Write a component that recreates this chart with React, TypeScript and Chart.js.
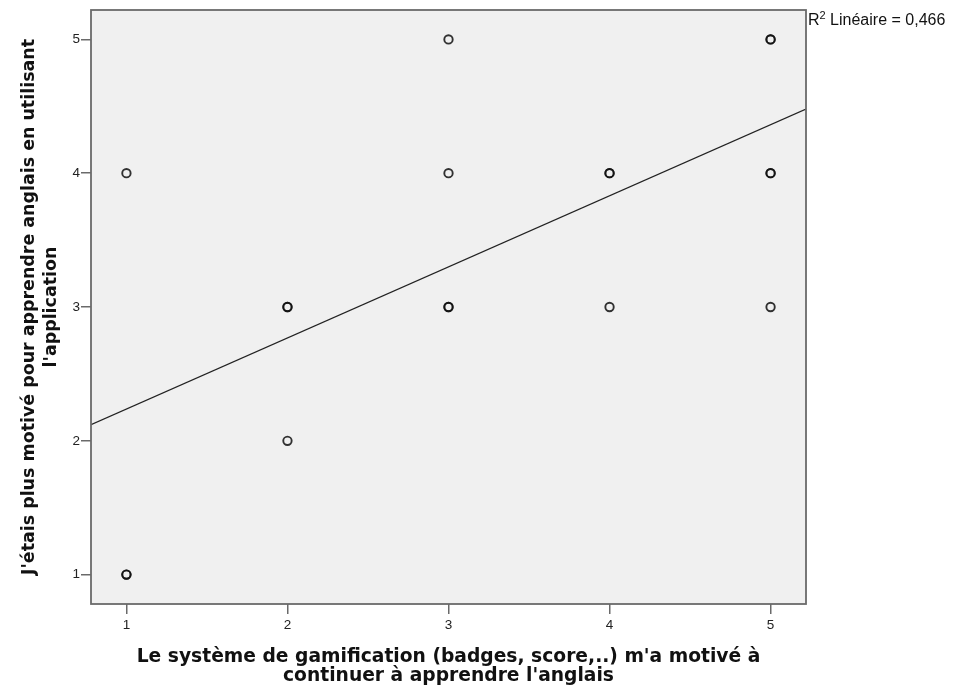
import React, { useEffect, useRef } from "react";
import { Chart, registerables } from "chart.js";

Chart.register(...registerables);

const pointsX = [1, 1, 1, 2, 2, 2, 3, 3, 3, 3, 4, 4, 4, 5, 5, 5, 5, 5];
const pointsY = [4, 1, 1, 3, 3, 2, 5, 4, 3, 3, 4, 4, 3, 5, 5, 4, 4, 3];
const fitX = [0.78, 5.22];
const fitY = [2.12, 4.48];
const tickValues = [1, 2, 3, 4, 5];
const axisMin = 0.78;
const axisMax = 5.22;
const xTitle = ["Le système de gamification (badges, score,..) m'a motivé à", "continuer à apprendre l'anglais"];
const yTitle = ["J'étais plus motivé pour apprendre anglais en utilisant", "l'application"];
const r2Parts = ["R", "2", " Linéaire = 0,466"];

const framePlugin = {
  id: "frame",
  beforeDraw(chart: any) {
    const { ctx, chartArea: a } = chart;
    ctx.save();
    ctx.fillStyle = "#f0f0f0";
    ctx.fillRect(a.left, a.top, a.right - a.left, a.bottom - a.top);
    ctx.restore();
  },
  afterDraw(chart: any) {
    const { ctx, chartArea: a } = chart;
    ctx.save();
    ctx.strokeStyle = "#6a6a6a";
    ctx.lineWidth = 1.8;
    ctx.strokeRect(a.left, a.top, a.right - a.left, a.bottom - a.top);
    ctx.fillStyle = "#111";
    ctx.textBaseline = "alphabetic";
    ctx.textAlign = "left";
    let x = a.right + 2;
    const y = a.top + 15;
    ctx.font = "16px 'Liberation Sans', Arial, sans-serif";
    ctx.fillText(r2Parts[0], x, y);
    x += ctx.measureText(r2Parts[0]).width;
    ctx.font = "11px 'Liberation Sans', Arial, sans-serif";
    ctx.fillText(r2Parts[1], x, y - 6);
    x += ctx.measureText(r2Parts[1]).width;
    ctx.font = "16px 'Liberation Sans', Arial, sans-serif";
    ctx.fillText(r2Parts[2], x, y);
    ctx.restore();
  },
};

export default function App() {
  const ref = useRef<HTMLCanvasElement>(null);
  useEffect(() => {
    document.body.style.margin = "0";
    const tickFont = { family: "'Liberation Sans', Arial, sans-serif", size: 13.5 };
    const chart = new Chart(ref.current as HTMLCanvasElement, {
      type: "scatter",
      data: {
        datasets: [
          {
            type: "line",
            data: fitX.map((x, i) => ({ x, y: fitY[i] })),
            borderColor: "#222",
            borderWidth: 1.2,
            pointRadius: 0,
            fill: false,
          } as any,
          {
            data: pointsX.map((x, i) => ({ x, y: pointsY[i] })),
            backgroundColor: "rgba(0,0,0,0)",
            borderColor: "rgba(15,15,15,0.85)",
            borderWidth: 1.9,
            pointRadius: 4.2,
            pointStyle: "circle",
          },
        ],
      },
      plugins: [framePlugin],
      options: {
        animation: false,
        responsive: false,
        events: [],
        layout: { padding: { top: 10, right: 148, left: 0, bottom: 0 } },
        plugins: { legend: { display: false }, tooltip: { enabled: false } },
        scales: {
          x: {
            type: "linear",
            min: axisMin,
            max: axisMax,
            afterFit(scale: any) {
              scale.height = 87;
            },
            afterBuildTicks(scale: any) {
              scale.ticks = tickValues.map((v) => ({ value: v }));
            },
            border: { display: false },
            grid: {
              display: true,
              drawOnChartArea: false,
              drawTicks: true,
              tickLength: 10,
              color: "#6a6a6a",
              lineWidth: 1.5,
            },
            ticks: { font: tickFont, color: "#222", padding: 3, maxRotation: 0 },
            title: {
              display: true,
              text: xTitle,
              color: "#111",
              font: { family: "'DejaVu Sans', sans-serif", size: 18.7, weight: "bold", lineHeight: 1.0 },
              padding: { top: 0, bottom: 5.5 },
            },
          },
          y: {
            type: "linear",
            min: axisMin,
            max: axisMax,
            afterFit(scale: any) {
              scale.width = 91;
            },
            afterBuildTicks(scale: any) {
              scale.ticks = tickValues.map((v) => ({ value: v }));
            },
            border: { display: false },
            grid: {
              display: true,
              drawOnChartArea: false,
              drawTicks: true,
              tickLength: 10,
              color: "#6a6a6a",
              lineWidth: 1.5,
            },
            ticks: { font: tickFont, color: "#222", padding: 1 },
            title: {
              display: true,
              text: yTitle,
              color: "#111",
              font: { family: "'DejaVu Sans', sans-serif", size: 17.45, weight: "bold", lineHeight: 1.27 },
              padding: { top: 18, bottom: 0 },
            },
          },
        },
      } as any,
    });
    return () => chart.destroy();
  }, []);
  return <canvas ref={ref} width={954} height={691} style={{ display: "block" }} />;
}
